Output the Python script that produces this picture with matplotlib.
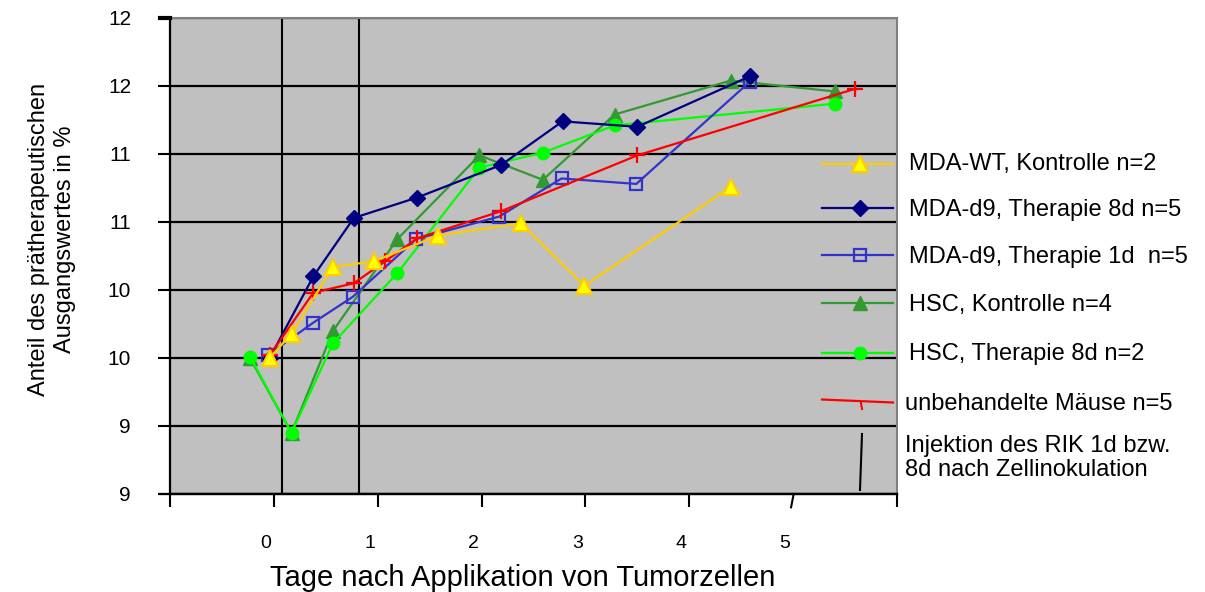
import matplotlib
matplotlib.use("Agg")
import matplotlib.pyplot as plt
from matplotlib.transforms import ScaledTranslation, blended_transform_factory
from matplotlib.lines import Line2D

plt.rcParams['font.family'] = ['Liberation Sans', 'DejaVu Sans']

# ---------------- data ----------------
x_wt = [-0.04, 0.17, 0.57, 0.96, 1.58, 2.38, 2.99, 4.40]
y_wt = [10.00, 10.18, 10.67, 10.71, 10.90, 10.99, 10.53, 11.26]

x_d9_8d = [-0.04, 0.38, 0.77, 1.38, 2.19, 2.78, 3.50, 4.58]
y_d9_8d = [10.00, 10.60, 11.03, 11.18, 11.42, 11.74, 11.70, 12.07]

x_d9_1d = [-0.06, 0.38, 0.76, 1.37, 2.17, 2.77, 3.49, 4.58]
y_d9_1d = [10.02, 10.26, 10.45, 10.875, 11.04, 11.32, 11.28, 12.03]

x_hsc_k = [-0.23, 0.17, 0.57, 1.19, 1.98, 2.59, 3.28, 4.40, 5.40]
y_hsc_k = [10.00, 9.45, 10.20, 10.875, 11.49, 11.31, 11.79, 12.04, 11.96]

x_hsc_8d = [-0.23, 0.17, 0.57, 1.19, 1.98, 2.59, 3.28, 5.40]
y_hsc_8d = [10.01, 9.45, 10.11, 10.625, 11.40, 11.51, 11.71, 11.87]

x_unb = [-0.04, 0.38, 0.77, 1.07, 1.38, 2.19, 3.50, 5.60]
y_unb = [10.02, 10.48, 10.55, 10.71, 10.88, 11.08, 11.49, 11.98]

injection_days = [0.08, 0.82]

yticks = [9, 9.5, 10, 10.5, 11, 11.5, 12, 12.5]
ytick_labels = ['9', '9', '10', '10', '11', '11', '12', '12']
xticks = [-1, 0, 1, 2, 3, 4, 5, 6]
xtick_labels = ['', '0', '1', '2', '3', '4', '5', '']

labels = ['MDA-WT, Kontrolle n=2', 'MDA-d9, Therapie 8d n=5', 'MDA-d9, Therapie 1d  n=5',
          'HSC, Kontrolle n=4', 'HSC, Therapie 8d n=2', 'unbehandelte Mäuse n=5']
inj_label = 'Injektion des RIK 1d bzw.\n8d nach Zellinokulation'
xlabel = 'Tage nach Applikation von Tumorzellen'
ylabel = 'Anteil des prätherapeutischen\nAusgangswertes in %'

# ---------------- figure ----------------
W, H = 1205, 592
fig = plt.figure(figsize=(W / 100, H / 100), dpi=100)
ax = fig.add_axes([170 / W, 98 / H, 727 / W, 476 / H])
ax.set_facecolor('#C0C0C0')
ax.set_xlim(-1, 6)
ax.set_ylim(9, 12.5)

for y in yticks:
    ax.axhline(y, color='black', lw=1.6, zorder=1)
for xd in injection_days:
    ax.axvline(xd, color='black', lw=1.5, zorder=1)

yellow_line = '#FFCC00'
kw = dict(lw=1.6, zorder=3)
ax.plot(x_hsc_k, y_hsc_k, color='#339933', marker='^', ms=10, mec='#339933', mfc='#339933', **kw)
ax.plot(x_hsc_8d, y_hsc_8d, color='#00FF00', marker='o', ms=9, mec='#00FF00', mfc='#00FF00', **kw)
ax.plot(x_d9_1d, y_d9_1d, color='#3333CC', marker='s', ms=8, mec='#3333CC', mfc='none', mew=1.6, **kw)
ax.plot(x_d9_8d, y_d9_8d, color='#000080', marker='D', ms=8, mec='#000080', mfc='#000080', **kw)
ax.plot(x_unb, y_unb, color='#FF0000', marker='+', ms=12, mew=1.6, **kw)
ax.plot(x_wt, y_wt, color=yellow_line, marker='^', ms=11, mec=yellow_line, mfc='#FFFF00', mew=1.5, **kw)

# spines
for s in ['top', 'right']:
    ax.spines[s].set_color('#808080')
    ax.spines[s].set_linewidth(1.5)
for s in ['left', 'bottom']:
    ax.spines[s].set_color('black')
    ax.spines[s].set_linewidth(1.6)

ax.set_yticks(yticks)
ax.set_yticklabels(ytick_labels)
ax.set_xticks(xticks)
ax.set_xticklabels(xtick_labels)
ax.tick_params(axis='y', direction='out', length=9, width=1.5, pad=19, labelsize=15)
ax.tick_params(axis='x', direction='out', length=9.5, width=1.5, pad=20, labelsize=14)
for lbl in ax.get_xticklabels():
    lbl.set_transform(lbl.get_transform() + ScaledTranslation(-8 / 100, 0, fig.dpi_scale_trans))

# slanted tick at 5
ax.xaxis.get_major_ticks()[6].tick1line.set_visible(False)
bt = blended_transform_factory(ax.transData, ax.transAxes)
ax.plot([5.005, 4.98], [0, -0.028], transform=bt, color='black', lw=1.5, clip_on=False)
# axis line extends to the left
ax.plot([-0.014, 1.0], [0, 0], transform=ax.transAxes, color='black', lw=1.6, clip_on=False, zorder=5)
# short thick dash at the top of the y axis
ax.plot([-0.014, 0], [1, 1], transform=ax.transAxes, color='black', lw=3, clip_on=False, zorder=5)

# axis labels
fig.text(523 / W, 1 - 578 / H, xlabel, ha='center', va='center', fontsize=21)
fig.text(52 / W, 1 - 239 / H, ylabel, ha='center', va='center', rotation=90, fontsize=17,
         multialignment='center', linespacing=1.25)

# legend (manual)
def fx(px):
    return px / W

def fy(py):
    return 1 - py / H

ft = fig.transFigure
leg_y = [164, 208, 255, 303, 353, 401]
txt_y = [164, 210, 257, 305, 354, 404]
styles = [
    dict(color=yellow_line, marker='^', ms=11, mec=yellow_line, mfc='#FFFF00', mew=1.5),
    dict(color='#000080', marker='D', ms=8, mec='#000080', mfc='#000080'),
    dict(color='#3333CC', marker='s', ms=8, mec='#3333CC', mfc='none', mew=1.6),
    dict(color='#339933', marker='^', ms=10, mec='#339933', mfc='#339933'),
    dict(color='#00FF00', marker='o', ms=9, mec='#00FF00', mfc='#00FF00'),
]
for i, (yy, ty, lab) in enumerate(zip(leg_y, txt_y, labels)):
    if i < 5:
        st = styles[i]
        fig.add_artist(Line2D([fx(822), fx(893)], [fy(yy), fy(yy)], transform=ft, lw=1.6,
                              color=st['color']))
        mk = {k: v for k, v in st.items() if k != 'color'}
        fig.add_artist(Line2D([fx(860)], [fy(yy)], transform=ft, ls='none', **mk))
        fig.text(fx(909), fy(ty), lab, ha='left', va='center', fontsize=17)
    else:
        fig.add_artist(Line2D([fx(822), fx(893)], [fy(yy - 1.5), fy(yy + 1.5)], transform=ft,
                              lw=1.6, color='#FF0000'))
        fig.add_artist(Line2D([fx(861), fx(862)], [fy(yy + 2), fy(yy + 8)], transform=ft,
                              lw=1.5, color='#FF0000'))
        fig.text(fx(905), fy(ty), lab, ha='left', va='center', fontsize=17)

fig.add_artist(Line2D([fx(862), fx(860)], [fy(434), fy(490)], transform=ft, lw=1.5, color='black'))
fig.text(fx(905), fy(458), inj_label, ha='left', va='center', fontsize=17, linespacing=1.15)

fig.savefig('out.png', dpi=100)
